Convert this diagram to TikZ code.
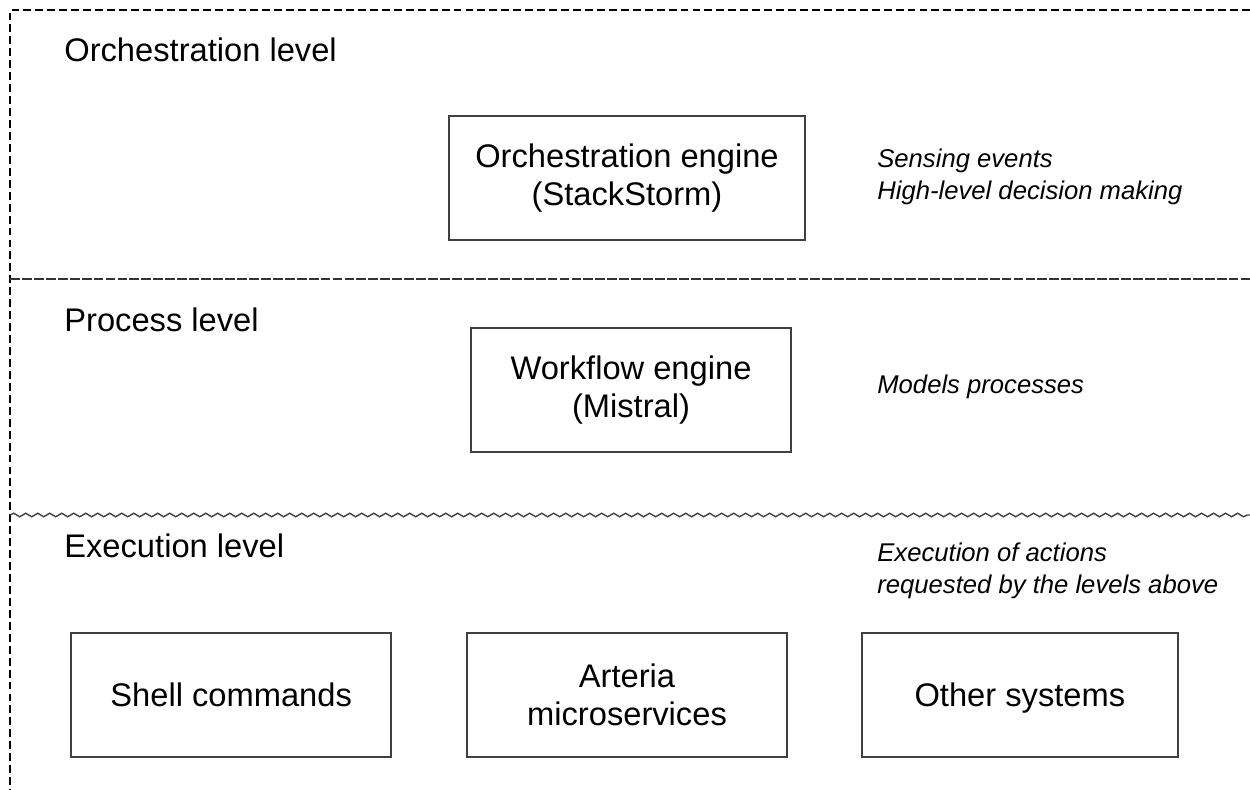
\documentclass[tikz,border=0pt]{standalone}
\usepackage{fontspec}
\setmainfont{Liberation Sans}
\usepackage{xcolor}
\usepackage{tikz}
\usetikzlibrary{positioning,decorations.pathmorphing}

\begin{document}
\begin{tikzpicture}[x=0.02cm, y=-0.02cm, node distance=1.5cm,
    box/.style={rectangle, draw=black!75, line width=1.1pt, minimum width=6.4cm, minimum height=2.48cm, align=center, font=\fontsize{18.6}{21.5}\selectfont},
    level/.style={anchor=west, inner sep=0pt, font=\fontsize{18.6}{21.5}\selectfont},
    note/.style={anchor=west, inner sep=0pt, align=left, font=\fontsize{14.6}{18.1}\selectfont\itshape},
    border/.style={line width=0.8pt, dash pattern=on 4.5pt off 2.3pt},
    split/.style={line width=0.9pt, black!80, dash pattern=on 5.6pt off 1.2pt},
    wave/.style={line width=0.8pt, black!75, decorate, decoration={snake, segment length=0.24cm, amplitude=0.035cm}}]

    \useasboundingbox (0,0) rectangle (1250,790);

    % frame and level separators
    \coordinate (tl) at (10,10);
    \coordinate (tr) at (1250,10);
    \coordinate (bl) at (10,790);
    \coordinate (ml) at (10,279);
    \coordinate (mr) at (1250,279);
    \coordinate (wl) at (10,515);
    \coordinate (wr) at (1250,515);
    \draw [border] (tr) -- (tl) -- (bl);
    \draw [split] (ml) -- (mr);
    \draw [wave] (wl) -- (wr);

    % levels
    \node [level] (orchlevel) at (64,50) {Orchestration level};
    \node [level] (proclevel) at (64,320) {Process level};
    \node [level] (execlevel) at (64,546) {Execution level};

    % engines
    \node [box, minimum width=7.12cm] (orch) at (627,178) {Orchestration engine\\(StackStorm)};
    \node [box] (wf) at (631,390) {Workflow engine\\(Mistral)};

    % execution row
    \node [box] (arteria) at (627,695) {Arteria\\microservices};
    \node [box, left=1.48cm of arteria] (shell) {Shell commands};
    \node [box, text depth=0pt, minimum width=6.32cm, right=1.46cm of arteria] (other) {Other systems};

    % notes
    \node [note] (orchnote) at (877,177) {Sensing events\\High-level decision making};
    \node [note] (wfnote) at (877,387) {Models processes};
    \node [note] (execnote) at (877,571) {Execution of actions\\requested by the levels above};
\end{tikzpicture}
\end{document}
